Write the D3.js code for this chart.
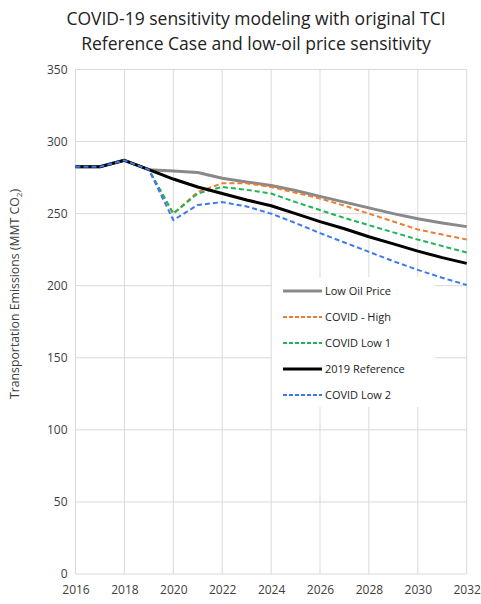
<!DOCTYPE html>
<html>
<head>
<meta charset="utf-8">
<script src="https://cdnjs.cloudflare.com/ajax/libs/d3/7.8.5/d3.min.js"></script>
<style>
  body { margin: 0; background: #fff; }
  text { font-family: "Open Sans", "Noto Sans", sans-serif; }
</style>
</head>
<body>
<div id="chart"></div>
<script>
var years = d3.range(2016, 2033);
var lowOil    = [282.5, 282.5, 287, 280.5, 279.5, 278.5, 274.5, 272, 269.5, 266, 262, 258, 254, 250, 246.5, 243.5, 241];
var covidHigh = [282.5, 282.5, 287, 280.5, 250, 265, 271, 271, 268.5, 264.5, 260.5, 255.5, 250, 244.5, 239, 235.5, 232];
var covidLow1 = [282.5, 282.5, 287, 280.5, 250, 264, 268.5, 266.5, 264, 258, 252.5, 247, 242, 237, 232, 227.5, 223];
var reference = [282.5, 282.5, 287, 280.5, 274, 268.5, 264, 259.5, 255.5, 250, 244.5, 239.5, 234, 229, 224, 219.5, 215.5];
var covidLow2 = [282.5, 282.5, 287, 280.5, 245.5, 256, 258, 255, 250, 243.5, 236.5, 230, 223.5, 217, 211, 205.5, 200.5];
var yTicks = [0, 50, 100, 150, 200, 250, 300, 350];
var xTicks = [2016, 2018, 2020, 2022, 2024, 2026, 2028, 2030, 2032];

var series = [
  {name: 'Low Oil Price', values: lowOil, color: '#898989', width: 3, dash: null},
  {name: 'COVID - High', values: covidHigh, color: '#ed7d31', width: 2, dash: '5,3'},
  {name: 'COVID Low 1', values: covidLow1, color: '#1fb556', width: 2, dash: '5,3'},
  {name: '2019 Reference', values: reference, color: '#000000', width: 3, dash: null},
  {name: 'COVID Low 2', values: covidLow2, color: '#3c78ef', width: 2, dash: '5,3'}
];
// draw order: gray, orange, green, black, blue on top
var w = 481, h = 604;
var margin = {top: 69.5, right: 14, bottom: 30, left: 75.5};

var svg = d3.select('#chart').append('svg')
  .attr('width', w)
  .attr('height', h);

var x = d3.scaleLinear().domain([2016, 2032]).range([margin.left, 466.7]);
var y = d3.scaleLinear().domain([0, 350]).range([574, margin.top]);

// title
svg.append('text').attr('x', 256).attr('y', 25).attr('text-anchor', 'middle')
  .attr('font-size', 17.5).attr('fill', '#222').text('COVID-19 sensitivity modeling with original TCI');
svg.append('text').attr('x', 256).attr('y', 50).attr('text-anchor', 'middle')
  .attr('font-size', 17.5).attr('fill', '#222').text('Reference Case and low-oil price sensitivity');

// grid
svg.append('g').selectAll('line').data(yTicks).enter().append('line')
  .attr('x1', x(2016)).attr('x2', x(2032))
  .attr('y1', function(d) { return y(d); }).attr('y2', function(d) { return y(d); })
  .attr('stroke', '#d9d9d9').attr('stroke-width', 1);
svg.append('g').selectAll('line').data(xTicks).enter().append('line')
  .attr('x1', function(d) { return x(d); }).attr('x2', function(d) { return x(d); })
  .attr('y1', y(0)).attr('y2', y(350))
  .attr('stroke', '#d9d9d9').attr('stroke-width', 1);

// axes labels
var yAxis = d3.axisLeft(y).tickValues(yTicks).tickSize(0).tickPadding(8);
var gy = svg.append('g').attr('transform', 'translate(' + x(2016) + ',0)').call(yAxis);
gy.select('.domain').remove();
gy.selectAll('text').attr('font-size', 12).attr('fill', '#404040')
  .style('font-family', '"Open Sans", sans-serif');

var xAxis = d3.axisBottom(x).tickValues(xTicks).tickFormat(d3.format('d')).tickSize(0).tickPadding(11);
var gx = svg.append('g').attr('transform', 'translate(0,' + y(0) + ')').call(xAxis);
gx.select('.domain').remove();
gx.selectAll('text').attr('font-size', 12).attr('fill', '#404040')
  .style('font-family', '"Open Sans", sans-serif');

// y title
var yt = svg.append('text')
  .attr('transform', 'translate(19,294) rotate(-90)')
  .attr('text-anchor', 'middle').attr('font-size', 12.3).attr('fill', '#404040');
yt.append('tspan').text('Transportation Emissions (MMT CO');
yt.append('tspan').attr('font-size', 8).attr('dy', 3).text('2');
yt.append('tspan').attr('dy', -3).text(')');

// lines
var line = d3.line()
  .x(function(d, i) { return x(years[i]); })
  .y(function(d) { return y(d); });

svg.append('g').selectAll('path').data(series).enter().append('path')
  .attr('d', function(s) { return line(s.values); })
  .attr('fill', 'none')
  .attr('stroke', function(s) { return s.color; })
  .attr('stroke-width', function(s) { return s.width; })
  .attr('stroke-dasharray', function(s) { return s.dash; })
  .attr('stroke-linejoin', 'round');

// legend
var lg = svg.append('g').attr('transform', 'translate(272,277)');
lg.append('rect').attr('width', 163).attr('height', 130).attr('fill', '#fff');
var item = lg.selectAll('g.item').data(series).enter().append('g')
  .attr('class', 'item')
  .attr('transform', function(d, i) { return 'translate(0,' + (14 + i * 26) + ')'; });
item.append('line').attr('x1', 11).attr('x2', 50).attr('y1', 0).attr('y2', 0)
  .attr('stroke', function(s) { return s.color; })
  .attr('stroke-width', function(s) { return s.width; })
  .attr('stroke-dasharray', function(s) { return s.dash ? '4,2' : null; });
item.append('text').attr('x', 53).attr('y', 4).attr('font-size', 11).attr('fill', '#222')
  .text(function(s) { return s.name; });
</script>
</body>
</html>
